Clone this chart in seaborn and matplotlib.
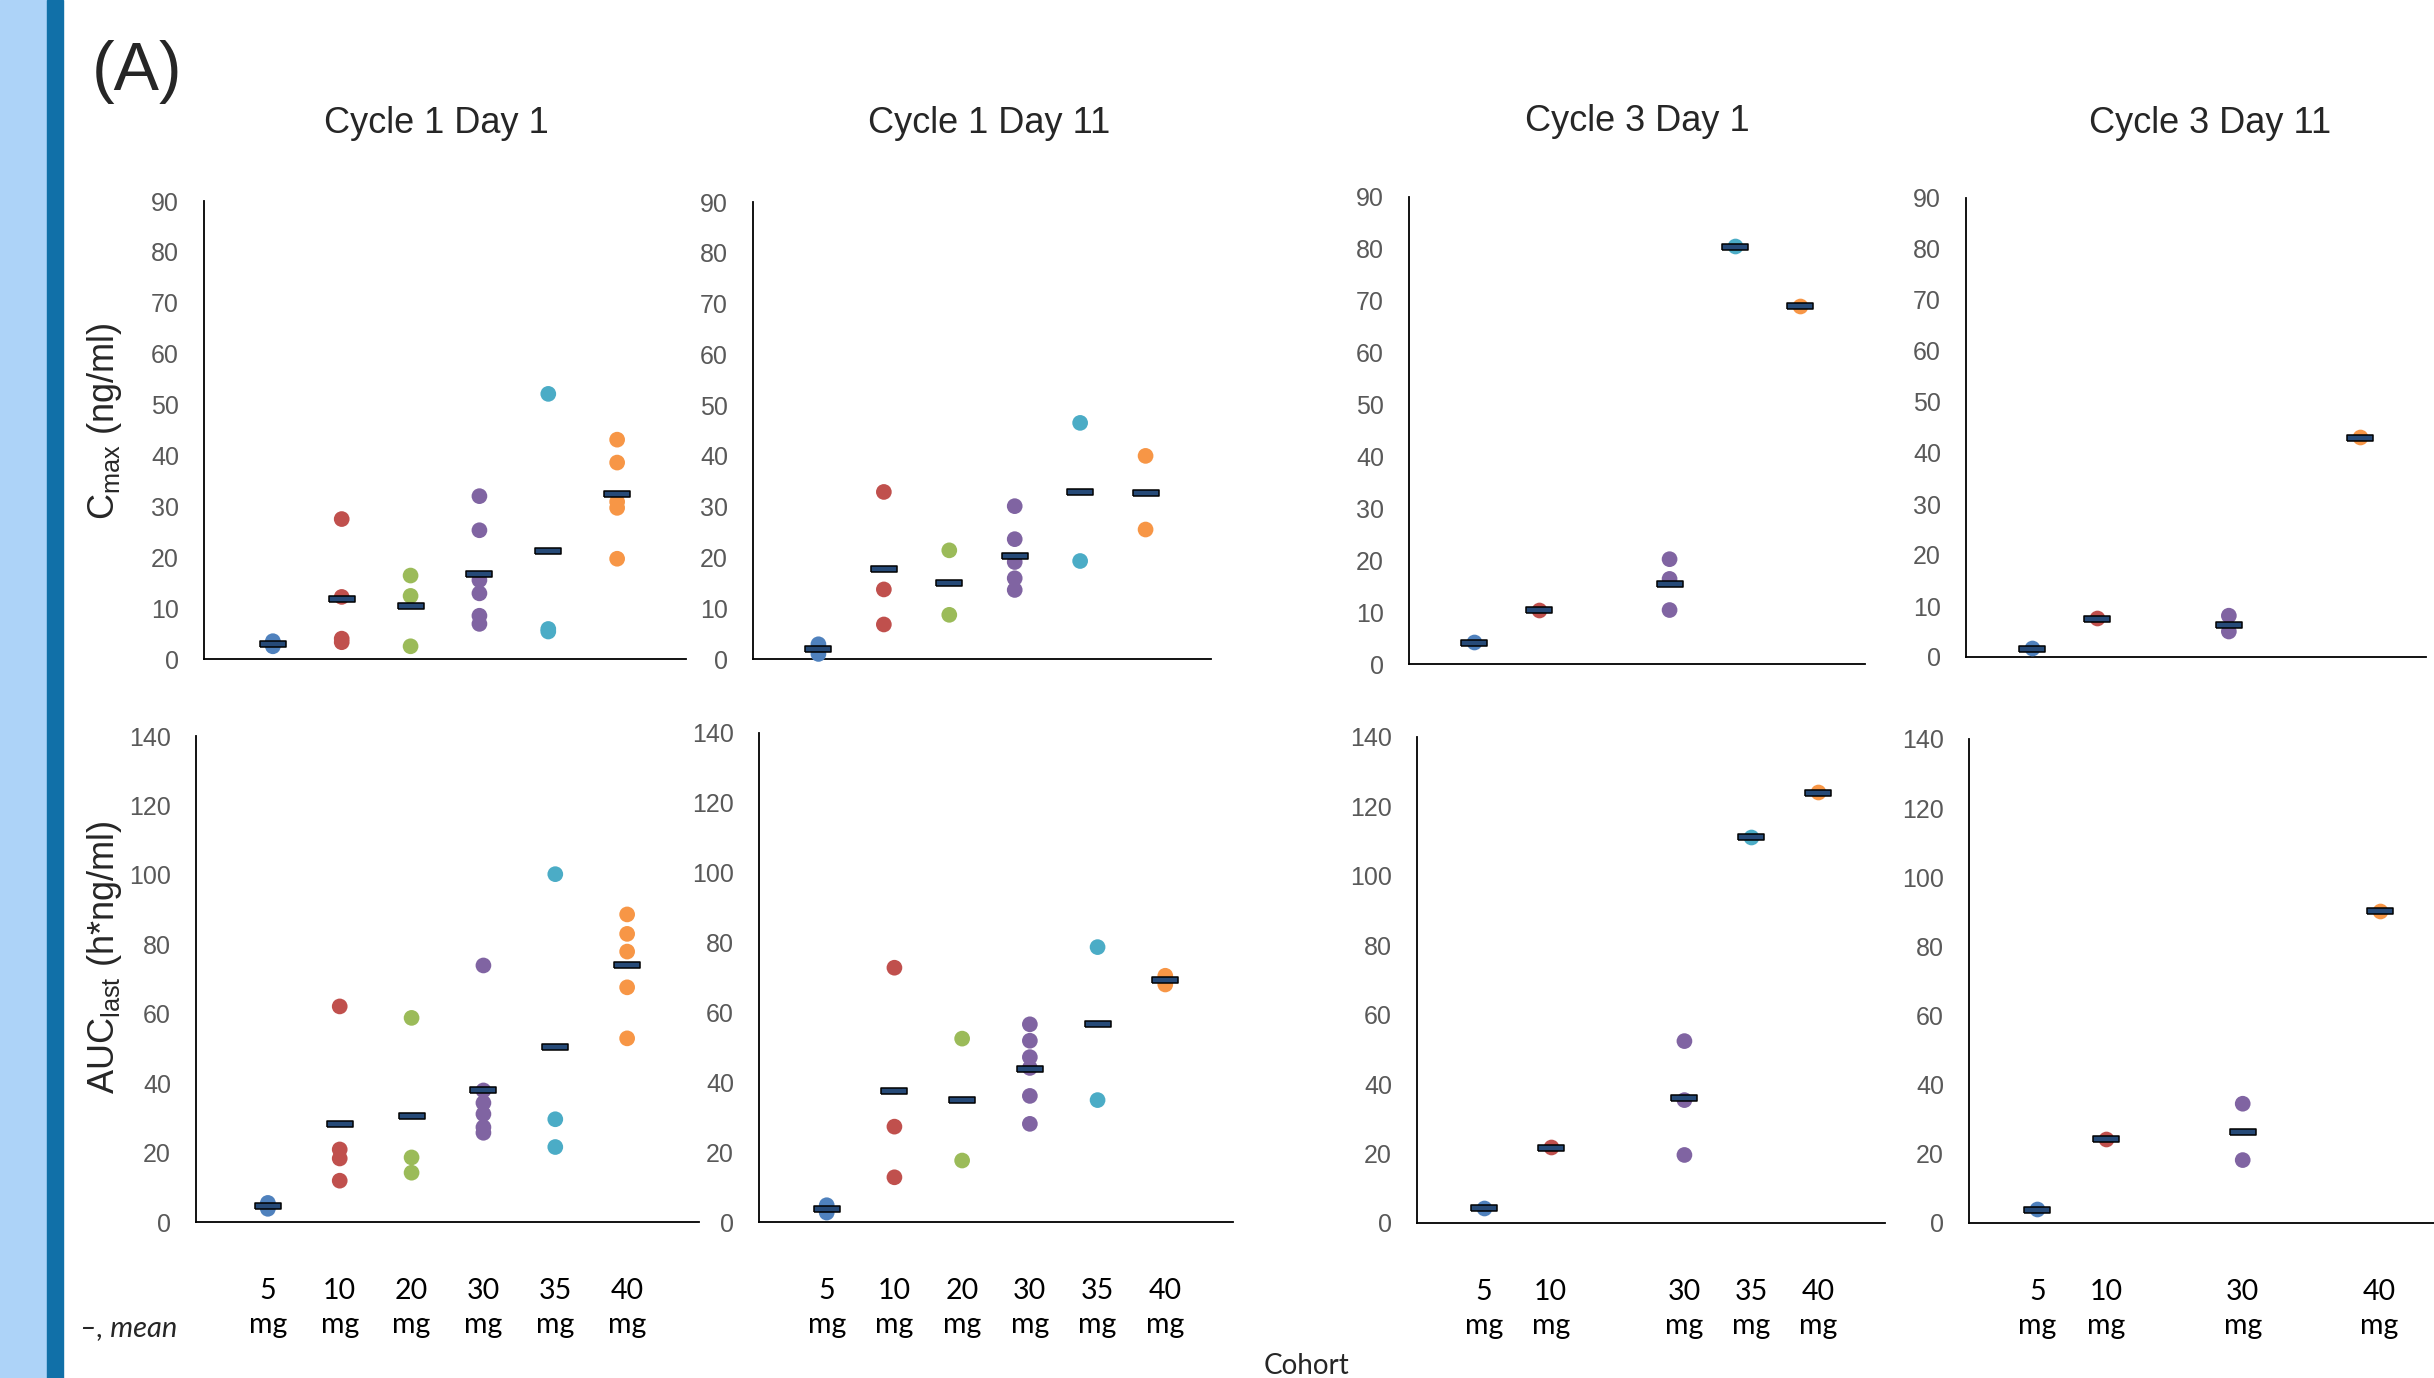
import numpy as np
import pandas as pd
import seaborn as sns
import matplotlib.pyplot as plt
from matplotlib.patches import Rectangle

# ---- data ----
cohorts = ["5 mg", "10 mg", "20 mg", "30 mg", "35 mg", "40 mg"]
cohort_colors = ["#4F81BD", "#C0504D", "#9BBB59", "#8064A2", "#4BACC6", "#F79646"]
visit_titles = ["Cycle 1 Day 1", "Cycle 1 Day 11", "Cycle 3 Day 1", "Cycle 3 Day 11"]

# Cmax (ng/ml), one value per patient
cmax_c1d1 = {"5 mg": [3.5, 2.5, 3.0], "10 mg": [27.5, 12.2, 4.0, 3.3], "20 mg": [16.4, 12.4, 2.5],
             "30 mg": [32.0, 25.3, 15.5, 12.9, 8.5, 6.9], "35 mg": [52.1, 5.9, 5.4],
             "40 mg": [43.1, 38.6, 30.9, 29.7, 19.7]}
cmax_c1d11 = {"5 mg": [2.9, 1.0], "10 mg": [32.9, 13.7, 6.8], "20 mg": [21.4, 8.7],
              "30 mg": [30.1, 23.6, 19.1, 15.9, 13.6], "35 mg": [46.5, 19.3], "40 mg": [40.0, 25.5]}
cmax_c3d1 = {"5 mg": [4.2], "10 mg": [10.5], "30 mg": [20.2, 16.4, 10.4], "35 mg": [80.5], "40 mg": [69.0]}
cmax_c3d11 = {"5 mg": [1.7], "10 mg": [7.6], "30 mg": [8.1, 5.0], "40 mg": [43.2]}

cmax_c1d1_mean = [3.0, 11.7, 10.4, 16.8, 21.2, 32.4]
cmax_c1d11_mean = [1.9, 17.7, 15.0, 20.2, 32.9, 32.6]
cmax_c3d1_mean = [4.1, 10.4, None, 15.5, 80.4, 68.9]
cmax_c3d11_mean = [1.65, 7.4, None, 6.3, None, 43.0]

# AUClast (h*ng/ml), one value per patient
auc_c1d1 = {"5 mg": [5.5, 3.8], "10 mg": [62.1, 20.9, 18.3, 11.9], "20 mg": [58.8, 18.6, 14.2],
            "30 mg": [73.9, 37.9, 34.3, 31.1, 27.3, 25.7], "35 mg": [100.2, 29.6, 21.6],
            "40 mg": [88.6, 83.0, 77.9, 67.6, 52.9]}
auc_c1d11 = {"5 mg": [4.8, 2.7], "10 mg": [72.8, 27.3, 12.8], "20 mg": [52.5, 17.6],
             "30 mg": [56.6, 51.9, 47.2, 44.1, 36.1, 28.1], "35 mg": [78.7, 34.9], "40 mg": [70.5, 68.0]}
auc_c3d1 = {"5 mg": [4.3], "10 mg": [21.8], "30 mg": [52.4, 35.4, 19.6], "35 mg": [111.1], "40 mg": [124.1]}
auc_c3d11 = {"5 mg": [4.0], "10 mg": [24.3], "30 mg": [34.5, 18.2], "40 mg": [90.3]}

auc_c1d1_mean = [4.6, 28.2, 30.5, 38.0, 50.5, 74.0]
auc_c1d11_mean = [3.7, 37.6, 34.8, 43.7, 56.7, 69.2]
auc_c3d1_mean = [4.3, 21.7, None, 36.0, 111.1, 123.9]
auc_c3d11_mean = [3.85, 24.3, None, 26.3, None, 90.3]

# ---- styling ----
sns.set_style("white")
plt.rcParams["font.family"] = ["Liberation Sans", "DejaVu Sans"]
plt.rcParams["mathtext.fontset"] = "custom"
plt.rcParams["mathtext.rm"] = "Liberation Sans"

W, H = 2434, 1378
fig = plt.figure(figsize=(W / 100, H / 100), dpi=100)

# blue strip on the left edge
fig.patches.append(Rectangle((0, 0), 47 / W, 1, transform=fig.transFigure, color="#ADD3F8", zorder=0))
fig.patches.append(Rectangle((47 / W, 0), 16 / W, 1, transform=fig.transFigure, color="#1170A8", zorder=0))


def px_axes(x0, y0, x1, y1):
    return fig.add_axes([x0 / W, 1 - y1 / H, (x1 - x0) / W, (y1 - y0) / H])


def long_table(points):
    rows = [(c, v) for c, vals in points.items() for v in vals]
    return pd.DataFrame(rows, columns=["cohort", "value"])


bar_marker = [(-1, -0.22), (1, -0.22), (1, 0.22), (-1, 0.22), (-1, -0.22)]
palette = dict(zip(cohorts, cohort_colors))


def draw_panel(ax, points, means, ymax, ystep, show_x):
    pts = long_table(points)
    sns.stripplot(data=pts, x="cohort", y="value", order=cohorts, hue="cohort", palette=palette,
                  jitter=False, size=11.3, linewidth=0, legend=False, ax=ax, clip_on=False, zorder=3)
    mdf = pd.DataFrame({"cohort": cohorts, "value": means}).dropna()
    sns.stripplot(data=mdf, x="cohort", y="value", order=cohorts, color="#264A78", marker=bar_marker,
                  size=19, linewidth=1.1, edgecolor="black", jitter=False, ax=ax, clip_on=False, zorder=4)
    ax.set_xlim(-1, 6)
    ax.set_ylim(0, ymax)
    ax.set_yticks(np.arange(0, ymax + 1, ystep))
    ax.tick_params(axis="y", length=0, pad=18, labelsize=18, labelcolor="#595959")
    ax.set_xlabel("")
    ax.set_ylabel("")
    for side in ["top", "right"]:
        ax.spines[side].set_visible(False)
    for side in ["left", "bottom"]:
        ax.spines[side].set_color("black")
        ax.spines[side].set_linewidth(1.3)
    present = [i for i, c in enumerate(cohorts) if c in points]
    ax.set_xticks(present)
    if show_x:
        ax.set_xticklabels([cohorts[i].replace(" ", "\n") for i in present])
        for lbl in ax.get_xticklabels():
            lbl.set_fontfamily("Lato")
            lbl.set_fontsize(20.5)
            lbl.set_linespacing(1.42)
        ax.tick_params(axis="x", length=0, pad=40, labelcolor="black")
    else:
        ax.set_xticklabels([])
        ax.tick_params(axis="x", length=0)


top_boxes = [(204, 201, 686, 659), (753, 202, 1211, 659), (1409, 197, 1865, 664), (1966, 198, 2426, 657)]
bottom_boxes = [(196, 736, 699, 1222), (759, 733, 1233, 1222), (1417, 737, 1885, 1223), (1969, 739, 2448, 1223)]

cmax_sets = [(cmax_c1d1, cmax_c1d1_mean), (cmax_c1d11, cmax_c1d11_mean),
             (cmax_c3d1, cmax_c3d1_mean), (cmax_c3d11, cmax_c3d11_mean)]
auc_sets = [(auc_c1d1, auc_c1d1_mean), (auc_c1d11, auc_c1d11_mean),
            (auc_c3d1, auc_c3d1_mean), (auc_c3d11, auc_c3d11_mean)]

for box, (pts, mns) in zip(top_boxes, cmax_sets):
    draw_panel(px_axes(*box), pts, mns, 90, 10, False)
for box, (pts, mns) in zip(bottom_boxes, auc_sets):
    draw_panel(px_axes(*box), pts, mns, 140, 20, True)

# panel titles
for cx, by, title in zip([436, 989, 1637, 2210], [133, 133, 131, 133], visit_titles):
    fig.text(cx / W, 1 - by / H, title, ha="center", va="baseline", fontsize=26)

fig.text(137 / W, 1 - 90 / H, "(A)", ha="center", va="baseline", fontsize=49)

fig.text(104 / W, 1 - 421 / H, r"C$_\mathregular{max}$ (ng/ml)", rotation=90,
         ha="center", va="center", fontsize=26)
fig.text(104 / W, 1 - 957 / H, r"AUC$_\mathregular{last}$ (h*ng/ml)", rotation=90,
         ha="center", va="center", fontsize=26)

fig.text(80 / W, 1 - 1336 / H, "\u2013, mean", ha="left", va="baseline", fontsize=21,
         family="Lato", style="italic")
fig.text(1307 / W, 1 - 1374 / H, "Cohort", ha="center", va="baseline", fontsize=20, family="Lato")

fig.savefig("out.png", dpi=100, facecolor="white")
